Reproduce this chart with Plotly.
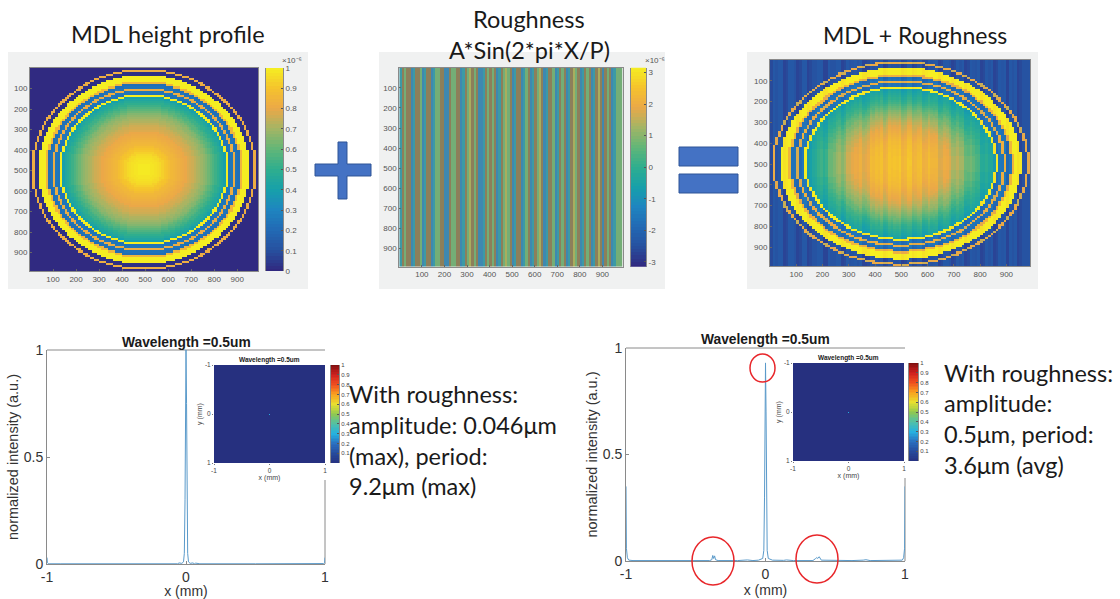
import plotly.graph_objects as go

W, H = 1120, 599

# ---------- data ----------
TICKS_IMG = [100, 200, 300, 400, 500, 600, 700, 800, 900]
CELLS = [5 + 10 * i for i in range(99)]

# height of the lens against radius, one value per 10 units of radius (x 1e-6)
MDL_PROFILE = [0.99, 0.99, 0.99, 0.98, 0.98, 0.97, 0.96, 0.95, 0.93, 0.91,
               0.90, 0.88, 0.86, 0.85, 0.84, 0.83, 0.82, 0.81, 0.80, 0.78,
               0.77, 0.76, 0.74, 0.72, 0.71, 0.69, 0.67, 0.65, 0.62, 0.59,
               0.56, 0.53, 0.50, 0.47, 0.44, 0.40, 1.00, 0.24, 0.25, 0.82,
               0.24, 0.22, 0.85, 1.00, 1.00, 1.00, 0.02, 0.02, 0.82, 0.01]

# the same radii as they read in the MDL + roughness image
SUM_PROFILE = [0.88, 0.88, 0.88, 0.88, 0.87, 0.87, 0.87, 0.86, 0.86, 0.85,
               0.85, 0.84, 0.83, 0.82, 0.81, 0.80, 0.79, 0.78, 0.77, 0.75,
               0.73, 0.71, 0.69, 0.67, 0.65, 0.63, 0.60, 0.58, 0.55, 0.52,
               0.50, 0.48, 0.46, 0.44, 0.42, 0.40, 1.00, 0.22, 0.22, 0.80,
               0.22, 0.20, 0.82, 1.00, 1.00, 1.00, 0.09, 0.09, 0.78, 0.10]

# roughness per column (x 1e-6)
B, T, G, Y, R = -1.6, -0.8, 0.7, 1.2, 1.8
ROUGHNESS = [T, R, G, R, R, B, T, R, R, G, B, T, R, R, B, T, G, G, R, R,
             B, B, R, G, G, R, R, B, T, R, G, Y, R, G, R, B, B, T, R, G,
             R, G, R, B, T, R, G, Y, G, R, B, T, R, R, B, T, G, R, B, T,
             R, G, Y, R, B, T, R, R, G, B, T, R, G, R, B, T, R, Y, G, R,
             B, T, R, G, R, B, T, R, Y, R, B, R, G, R, B, T, G, G, G]

LEFT_X = [-1, -0.997, -0.99, -0.98, -0.9, -0.5, -0.1, -0.07, -0.06, -0.05, -0.03, -0.018,
          -0.012, -0.007, -0.004, 0, 0.004, 0.007, 0.012, 0.018, 0.03, 0.05, 0.06, 0.07,
          0.1, 0.5, 0.9, 0.98, 0.99, 0.997, 1]
LEFT_Y = [0.03, 0.006, 0.002, 0.001, 0.001, 0.001, 0.001, 0.004, 0.001, 0.005, 0.003, 0.01,
          0.05, 0.3, 0.75, 1, 0.75, 0.3, 0.05, 0.01, 0.003, 0.005, 0.001, 0.004,
          0.001, 0.001, 0.001, 0.001, 0.002, 0.006, 0.03]

RIGHT_X = [-1, -0.997, -0.99, -0.98, -0.95, -0.75, -0.72, -0.69, -0.62, -0.6, -0.58, -0.4,
           -0.385, -0.378, -0.372, -0.365, -0.358, -0.34, -0.2, -0.13, -0.09, -0.05, -0.02, -0.012,
           -0.007, -0.004, 0, 0.004, 0.007, 0.012, 0.02, 0.05, 0.13, 0.15, 0.2, 0.34,
           0.36, 0.368, 0.375, 0.385, 0.4, 0.5, 0.52, 0.55, 0.62, 0.7, 0.72, 0.75,
           0.95, 0.98, 0.99, 0.997, 1]
RIGHT_Y = [0.35, 0.06, 0.015, 0.004, 0.002, 0.002, 0.005, 0.002, 0.002, 0.004, 0.002, 0.002,
           0.006, 0.026, 0.012, 0.024, 0.006, 0.002, 0.002, 0.005, 0.002, 0.004, 0.012, 0.05,
           0.3, 0.7, 0.93, 0.7, 0.3, 0.05, 0.012, 0.004, 0.003, 0.005, 0.002, 0.002,
           0.012, 0.016, 0.012, 0.02, 0.004, 0.002, 0.004, 0.002, 0.002, 0.004, 0.006, 0.002,
           0.002, 0.004, 0.015, 0.06, 0.35]

INSET_GRID = [-1 + i * 0.02 for i in range(101)]
SPOT_VALUE = 0.3

BAR_LEVELS = [i / 63 for i in range(64)]

PARULA = [[0, "#30287f"], [0.1, "#27509f"], [0.2, "#2269b4"], [0.3, "#1e85c0"], [0.4, "#17a0aa"],
          [0.5, "#2fae8e"], [0.6, "#62b678"], [0.7, "#a3b565"], [0.8, "#eba848"], [0.9, "#f5c32d"],
          [1, "#f5ee22"]]
JET = [[0, "#26307f"], [0.1, "#264a9c"], [0.2, "#2a70c0"], [0.3, "#25b0e0"], [0.4, "#50c0a8"],
       [0.5, "#90c850"], [0.6, "#e8e030"], [0.7, "#f9a020"], [0.8, "#ef5020"], [0.9, "#d02020"],
       [1, "#7f1010"]]
STRIPES = [[0, "#3f88b0"], [0.235, "#3c9aa5"], [0.676, "#74ae76"], [0.824, "#a8ae5e"], [1, "#8d7f5a"]]

# ---------- derived grids ----------
def profile_at(table, x, y, cx=495, cy=495, outside=0.005):
    r = ((x - cx) ** 2 + (y - cy) ** 2) ** 0.5
    i = int(r // 10)
    return table[i] if i < len(table) else outside

MDL = [[profile_at(MDL_PROFILE, x, y) for x in CELLS] for y in CELLS]
ROUGH_IMG = [ROUGHNESS for _ in CELLS]
SUM_IMG = [[min(1, profile_at(SUM_PROFILE, x, y, 498, 496, 0.10) + 0.018 * ROUGHNESS[j])
            for j, x in enumerate(CELLS)] for y in CELLS]
INSET_Z = [[SPOT_VALUE if (i, j) == (50, 50) else 0.0 for j in range(101)] for i in range(101)]

# ---------- helpers ----------
fig = go.Figure()
layout = {}
FONT = "Liberation Sans"
IMG_TICK = dict(family=FONT, size=8, color="#555555")
LINE = "#8a8a8a"

def px(x):
    return x / W

def py(y):
    return 1 - y / H

def add_axes(n, box, xr, yr, xopts=None, yopts=None):
    x0, y0, x1, y1 = box
    s = "" if n == 1 else str(n)
    xa = dict(domain=[px(x0), px(x1)], range=xr, anchor="y" + s, showgrid=False, zeroline=False,
              showline=False, showticklabels=False, ticks="", automargin=False)
    ya = dict(domain=[py(y1), py(y0)], range=yr, anchor="x" + s, showgrid=False, zeroline=False,
              showline=False, showticklabels=False, ticks="", automargin=False)
    xa.update(xopts or {})
    ya.update(yopts or {})
    layout["xaxis" + s] = xa
    layout["yaxis" + s] = ya
    return "x" + s, "y" + s

def image_panel(n, box, z, colorscale, zmin, zmax):
    xa, ya = add_axes(
        n, box, [0, 990], [990, 0],
        dict(showticklabels=True, tickvals=TICKS_IMG, tickfont=IMG_TICK, ticks="inside", ticklen=2,
             tickcolor="#666666", showline=True, mirror=True, linecolor=LINE, linewidth=1),
        dict(showticklabels=True, tickvals=TICKS_IMG, tickfont=IMG_TICK, ticks="inside", ticklen=2,
             tickcolor="#666666", showline=True, mirror=True, linecolor=LINE, linewidth=1))
    fig.add_trace(go.Heatmap(x=CELLS, y=CELLS, z=z, colorscale=colorscale, zmin=zmin, zmax=zmax,
                             showscale=False, hoverinfo="skip", xaxis=xa, yaxis=ya))

def color_bar(n, box, lo, hi, tickvals, colorscale, font, ticktext=None):
    levels = [lo + (hi - lo) * v for v in BAR_LEVELS]
    xa, ya = add_axes(
        n, box, [0, 1], [lo, hi], dict(),
        dict(side="right", showticklabels=True, tickvals=tickvals, ticktext=ticktext or [str(t) for t in tickvals],
             tickfont=font, ticks="inside", ticklen=2, tickcolor="#555555", showline=True, mirror=True,
             linecolor=LINE, linewidth=1))
    fig.add_trace(go.Heatmap(x=[0, 1], y=levels, z=[[v, v] for v in levels], colorscale=colorscale, zmin=lo, zmax=hi,
                             showscale=False, hoverinfo="skip", xaxis=xa, yaxis=ya))

def line_panel(n, box, xs, ys):
    tf = dict(family=FONT, size=14, color="#333333")
    xa, ya = add_axes(
        n, box, [-1, 1], [0, 1],
        dict(showticklabels=True, tickvals=[-1, 0, 1], ticktext=["-1", "0", "1"], tickfont=tf, ticks="inside",
             ticklen=3, tickcolor=LINE, showline=True, linecolor=LINE, linewidth=1,
             title=dict(text="x (mm)", font=dict(family=FONT, size=14, color="#333333"), standoff=1)),
        dict(showticklabels=True, tickvals=[0, 0.5, 1], ticktext=["0", "0.5", "1"], tickfont=tf, ticks="inside",
             ticklen=3, tickcolor=LINE, showline=True, linecolor=LINE, linewidth=1,
             title=dict(text="normalized intensity (a.u.)", font=dict(family=FONT, size=14.5, color="#333333"), standoff=1)))
    fig.add_trace(go.Scatter(x=xs, y=ys, mode="lines", line=dict(color="#5a9aca", width=1),
                             hoverinfo="skip", showlegend=False, xaxis=xa, yaxis=ya, cliponaxis=False))

def inset(n, box):
    tf = dict(family=FONT, size=6.5, color="#444444")
    tt = dict(family=FONT, size=7, color="#444444")
    xa, ya = add_axes(
        n, box, [-1, 1], [1, -1],
        dict(showticklabels=True, tickvals=[-1, 0, 1], ticktext=["-1", "0", "1"], tickfont=tf,
             ticks="outside", ticklen=1, tickcolor="#777777",
             title=dict(text="x (mm)", font=tt, standoff=1)),
        dict(showticklabels=True, tickvals=[-1, 0, 1], ticktext=["-1", "0", "1"], tickfont=tf,
             ticks="outside", ticklen=1, tickcolor="#777777",
             title=dict(text="y (mm)", font=tt, standoff=1)))
    fig.add_trace(go.Heatmap(x=INSET_GRID, y=INSET_GRID, z=INSET_Z, colorscale=JET, zmin=0, zmax=1,
                             showscale=False, hoverinfo="skip", xaxis=xa, yaxis=ya))

# ---------- panels ----------
image_panel(1, (30, 68, 258, 271), MDL, PARULA, 0, 1)
color_bar(2, (266, 68, 283, 271), 0, 1, [0, .1, .2, .3, .4, .5, .6, .7, .8, .9, 1], PARULA, IMG_TICK,
          ["0", "0.1", "0.2", "0.3", "0.4", "0.5", "0.6", "0.7", "0.8", "0.9", "1"])
image_panel(3, (399.3, 67.7, 622.7, 266.7), ROUGH_IMG, STRIPES, -1.6, 1.8)
color_bar(4, (630.7, 67.7, 646, 266.7), -3.15, 3.15, [-3, -2, -1, 0, 1, 2, 3], PARULA, IMG_TICK)
image_panel(5, (770, 60, 1030, 266), SUM_IMG, PARULA, 0, 1)

line_panel(6, (47, 350, 325, 564), LEFT_X, LEFT_Y)
inset(7, (214, 365, 325, 463))
small = dict(family=FONT, size=6, color="#444444")
jet_ticks = [.1, .2, .3, .4, .5, .6, .7, .8, .9, 1]
jet_text = ["0.1", "0.2", "0.3", "0.4", "0.5", "0.6", "0.7", "0.8", "0.9", "1"]
color_bar(8, (331, 365, 339, 463), 0, 1, jet_ticks, JET, small, jet_text)

line_panel(9, (626, 348, 905, 561), RIGHT_X, RIGHT_Y)
inset(10, (793, 363, 904, 461))
color_bar(11, (909, 363, 918, 461), 0, 1, jet_ticks, JET, small, jet_text)

# ---------- shapes ----------
shapes = []

def rect(x0, y0, x1, y1, fill, line=None, below=True):
    shapes.append(dict(type="rect", xref="paper", yref="paper", x0=px(x0), x1=px(x1), y0=py(y1), y1=py(y0),
                       fillcolor=fill, line=dict(color=line or fill, width=1 if line else 0),
                       layer="below" if below else "above"))

def seg(x0, y0, x1, y1):
    shapes.append(dict(type="line", xref="paper", yref="paper", x0=px(x0), x1=px(x1), y0=py(y0), y1=py(y1),
                       line=dict(color=LINE, width=1), layer="below"))

def ellipse(x0, y0, x1, y1):
    shapes.append(dict(type="circle", xref="paper", yref="paper", x0=px(x0), x1=px(x1), y0=py(y1), y1=py(y0),
                       line=dict(color="#e8262a", width=1.5), fillcolor="rgba(0,0,0,0)", layer="above"))

GREY = "#f0f1f1"
rect(8, 52, 308, 289, GREY)
rect(379, 52, 665, 289, GREY)
rect(747, 52, 1038, 289, GREY)

# plus sign
BLUE, EDGE = "#4472c4", "#2f5597"
pts = [(338, 142), (347, 142), (347, 164), (371, 164), (371, 176), (347, 176), (347, 199), (338, 199),
       (338, 176), (315, 176), (315, 164), (338, 164)]
path = "M " + " L ".join(f"{px(a):.5f},{py(b):.5f}" for a, b in pts) + " Z"
shapes.append(dict(type="path", xref="paper", yref="paper", path=path, fillcolor=BLUE,
                   line=dict(color=EDGE, width=1), layer="above"))
# equals sign
rect(679, 147, 738, 166, BLUE, EDGE, below=False)
rect(679, 174, 738, 193, BLUE, EDGE, below=False)

# top and lower-right edges of the line plots (the inset covers the rest of the right edge)
seg(47, 350, 325, 350)
seg(325, 480, 325, 564)
seg(626, 348, 905, 348)
seg(905, 478, 905, 561)

# red circles
ellipse(750, 354, 775, 382)
ellipse(692, 537, 734, 585)
ellipse(796, 535, 838, 583)

# ---------- text ----------
annos = []

def text(x, y, s, size, family="Lato", color="#1a1a1a", anchor="center", bold=False):
    annos.append(dict(x=px(x), y=py(y), xref="paper", yref="paper", text=f"<b>{s}</b>" if bold else s,
                      showarrow=False, xanchor=anchor, yanchor="middle",
                      font=dict(family=family, size=size, color=color)))

text(168, 34, "MDL height profile", 23.5)
text(529, 19, "Roughness", 23.5)
text(529, 50, "A*Sin(2*pi*X/P)", 23.5)
text(915, 35, "MDL + Roughness", 23)

text(347, 394, "With roughness:", 23.5, anchor="left")
text(347, 425, "amplitude: 0.046μm", 23.5, anchor="left")
text(347, 456, "(max), period:", 23.5, anchor="left")
text(347, 486, "9.2μm (max)", 23.5, anchor="left")

text(942, 373, "With roughness:", 23.5, anchor="left")
text(942, 403, "amplitude:", 23.5, anchor="left")
text(942, 434, "0.5μm, period:", 23.5, anchor="left")
text(942, 465, "3.6μm (avg)", 23.5, anchor="left")

text(186, 342, "Wavelength =0.5um", 13.8, family=FONT, bold=True)
text(765, 339, "Wavelength =0.5um", 13.8, family=FONT, bold=True)
text(269, 360, "Wavelength =0.5um", 6.5, family=FONT, bold=True)
text(848, 358, "Wavelength =0.5um", 6.5, family=FONT, bold=True)

text(292, 60, "×10⁻⁶", 8, family=FONT, color="#555555")
text(655, 60, "×10⁻⁶", 8, family=FONT, color="#555555")

fig.update_layout(width=W, height=H, margin=dict(l=0, r=0, t=0, b=0), autosize=False,
                  paper_bgcolor="white", plot_bgcolor="white", showlegend=False,
                  shapes=shapes, annotations=annos, **layout)
fig.write_html("out.html", config=dict(displayModeBar=False),
               post_script="document.body.style.margin='0';")
